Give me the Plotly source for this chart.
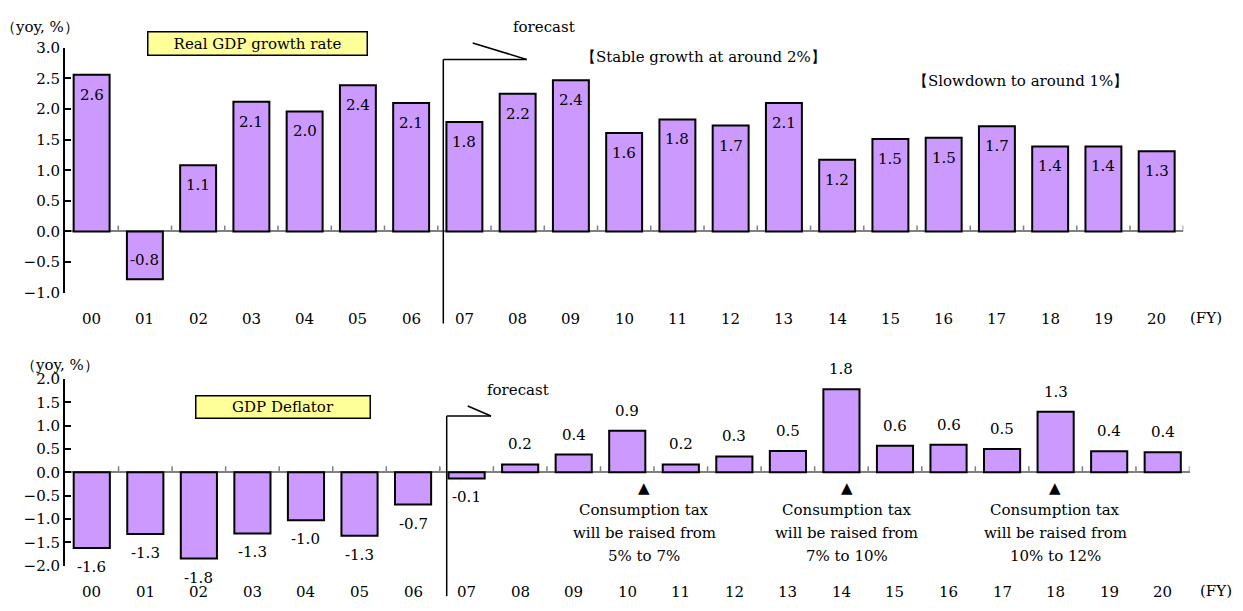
import plotly.graph_objects as go

W, H = 1243, 611

# ---------------- data ----------------
fiscal_years = ["00", "01", "02", "03", "04", "05", "06", "07", "08", "09", "10",
                "11", "12", "13", "14", "15", "16", "17", "18", "19", "20"]
real_gdp_growth = [2.56, -0.78, 1.08, 2.12, 1.96, 2.39, 2.10, 1.79, 2.25, 2.47, 1.61,
                   1.83, 1.73, 2.10, 1.17, 1.51, 1.53, 1.72, 1.39, 1.39, 1.31]
real_gdp_labels = ["2.6", "-0.8", "1.1", "2.1", "2.0", "2.4", "2.1", "1.8", "2.2", "2.4", "1.6",
                   "1.8", "1.7", "2.1", "1.2", "1.5", "1.5", "1.7", "1.4", "1.4", "1.3"]
gdp_deflator = [-1.62, -1.32, -1.85, -1.31, -1.03, -1.36, -0.69, -0.13, 0.17, 0.38, 0.89,
                0.17, 0.34, 0.46, 1.78, 0.57, 0.59, 0.50, 1.30, 0.45, 0.43]
gdp_deflator_labels = ["-1.6", "-1.3", "-1.8", "-1.3", "-1.0", "-1.3", "-0.7", "-0.1", "0.2", "0.4", "0.9",
                       "0.2", "0.3", "0.5", "1.8", "0.6", "0.6", "0.5", "1.3", "0.4", "0.4"]
tax_notes = [
    ["Consumption tax", "will be raised from", "5% to 7%"],
    ["Consumption tax", "will be raised from", "7% to 10%"],
    ["Consumption tax", "will be raised from", "10% to 12%"],
]

# ---------------- style ----------------
FONT = "DejaVu Serif"
BAR_FILL = "#CC99FF"
TXT = dict(family=FONT, size=15, color="black")


def px(p):
    return p / W


def py(p):
    return 1 - p / H


def note(x, y, text, font=TXT, **kw):
    d = dict(x=px(x), y=py(y), xref="paper", yref="paper", text=text, showarrow=False,
             xanchor="center", yanchor="middle", font=font)
    d.update(kw)
    return d


fig = go.Figure()
fig.add_trace(go.Bar(x=fiscal_years, y=real_gdp_growth, xaxis="x", yaxis="y",
                     marker=dict(color=BAR_FILL, line=dict(color="black", width=2)),
                     hoverinfo="x+y"))
fig.add_trace(go.Bar(x=fiscal_years, y=gdp_deflator, xaxis="x2", yaxis="y2",
                     marker=dict(color=BAR_FILL, line=dict(color="black", width=2)),
                     hoverinfo="x+y"))

annotations = []
shapes = []

# value labels
for xv, yv, lab in zip(fiscal_years, real_gdp_growth, real_gdp_labels):
    annotations.append(dict(x=xv, y=yv, xref="x", yref="y", text=lab, showarrow=False,
                            xanchor="center", yanchor="middle",
                            yshift=-20 if yv >= 0 else 19, font=TXT))
for xv, yv, lab in zip(fiscal_years, gdp_deflator, gdp_deflator_labels):
    annotations.append(dict(x=xv, y=yv, xref="x2", yref="y2", text=lab, showarrow=False,
                            xanchor="center", yanchor="middle",
                            yshift=20 if yv >= 0 else -19, font=TXT))

# category labels (x-axis tick labels)
for xv in fiscal_years:
    annotations.append(dict(x=xv, y=py(319), xref="x", yref="paper", text=xv, showarrow=False,
                            xanchor="center", yanchor="middle", font=TXT))
    annotations.append(dict(x=xv, y=py(601), xref="x2", yref="paper", text=xv, showarrow=False,
                            xanchor="center", yanchor="middle", font=TXT))

# small category ticks on zero line
for k in range(1, len(fiscal_years) + 1):
    for xr, yr in (("x", "y"), ("x2", "y2")):
        shapes.append(dict(type="line", xref=xr, yref=yr, x0=k - 0.5, x1=k - 0.5,
                           ysizemode="pixel", yanchor=0, y0=0, y1=6,
                           line=dict(color="#808080", width=1.5)))

# axis unit labels
annotations.append(note(40, 19, "（yoy, %）"))
annotations.append(note(60, 367, "（yoy, %）"))
annotations.append(note(1206, 318, "(FY)"))
annotations.append(note(1216, 599.5, "(FY)"))

# title boxes
annotations.append(note(257.5, 36, "Real GDP growth rate",
                        bgcolor="#FFFF99", bordercolor="black", borderwidth=1.5,
                        width=216, height=20, borderpad=1))
annotations.append(note(283, 410, "GDP Deflator",
                        bgcolor="#FFFF99", bordercolor="black", borderwidth=1.5,
                        width=171, height=19, borderpad=1))

# forecast markers
annotations.append(note(544, 19, "forecast"))
annotations.append(note(517.5, 393, "forecast"))
LW = dict(color="black", width=1.5)
shapes += [
    dict(type="line", xref="paper", yref="paper", x0=px(443.3), x1=px(443.3), y0=py(52), y1=py(324), line=LW),
    dict(type="line", xref="paper", yref="paper", x0=px(443.3), x1=px(526.7), y0=py(52), y1=py(52), line=LW),
    dict(type="line", xref="paper", yref="paper", x0=px(526.7), x1=px(472.7), y0=py(52), y1=py(35), line=LW),
    dict(type="line", xref="paper", yref="paper", x0=px(446.7), x1=px(446.7), y0=py(419.3), y1=py(605), line=LW),
    dict(type="line", xref="paper", yref="paper", x0=px(446.7), x1=px(491), y0=py(419.3), y1=py(419.3), line=LW),
    dict(type="line", xref="paper", yref="paper", x0=px(491), x1=px(467.7), y0=py(419.3), y1=py(409), line=LW),
]

# phase notes
annotations.append(note(703, 49, "【Stable growth at around 2%】"))
annotations.append(note(1020.5, 74, "【Slowdown to around 1%】"))

# consumption tax notes
for cx, lines in zip([644, 846.7, 1055], tax_notes):
    annotations.append(note(cx, 493.5, "▲", font=dict(family="DejaVu Sans", size=15, color="black")))
    for i, line in enumerate(lines):
        annotations.append(note(cx, 516.7 + 23.3 * i, line))

yax_common = dict(showgrid=False, showline=True, linecolor="black", linewidth=2,
                  ticks="inside", ticklen=6, tickwidth=2, tickcolor="black",
                  dtick=0.5, tickformat=".1f", tickfont=TXT,
                  zeroline=True, zerolinecolor="#808080", zerolinewidth=1.5)
xax_common = dict(type="category", showgrid=False, showline=False, zeroline=False,
                  ticks="", showticklabels=False,
                  range=[-0.5, 20.5], fixedrange=True)

fig.update_layout(
    width=W, height=H,
    margin=dict(l=0, r=0, t=0, b=0),
    paper_bgcolor="white", plot_bgcolor="white",
    showlegend=False, bargap=0.325,
    font=TXT,
    xaxis=dict(domain=[px(65), px(1183.3)], anchor="y", **xax_common),
    yaxis=dict(domain=[py(292.3), py(40)], anchor="x", range=[-1, 3], **yax_common),
    xaxis2=dict(domain=[px(65), px(1189.5)], anchor="y2", **xax_common),
    yaxis2=dict(domain=[py(573.5), py(381.3)], anchor="x2", range=[-2, 2], **yax_common),
    annotations=annotations,
    shapes=shapes,
)

fig.write_html("out.html")
